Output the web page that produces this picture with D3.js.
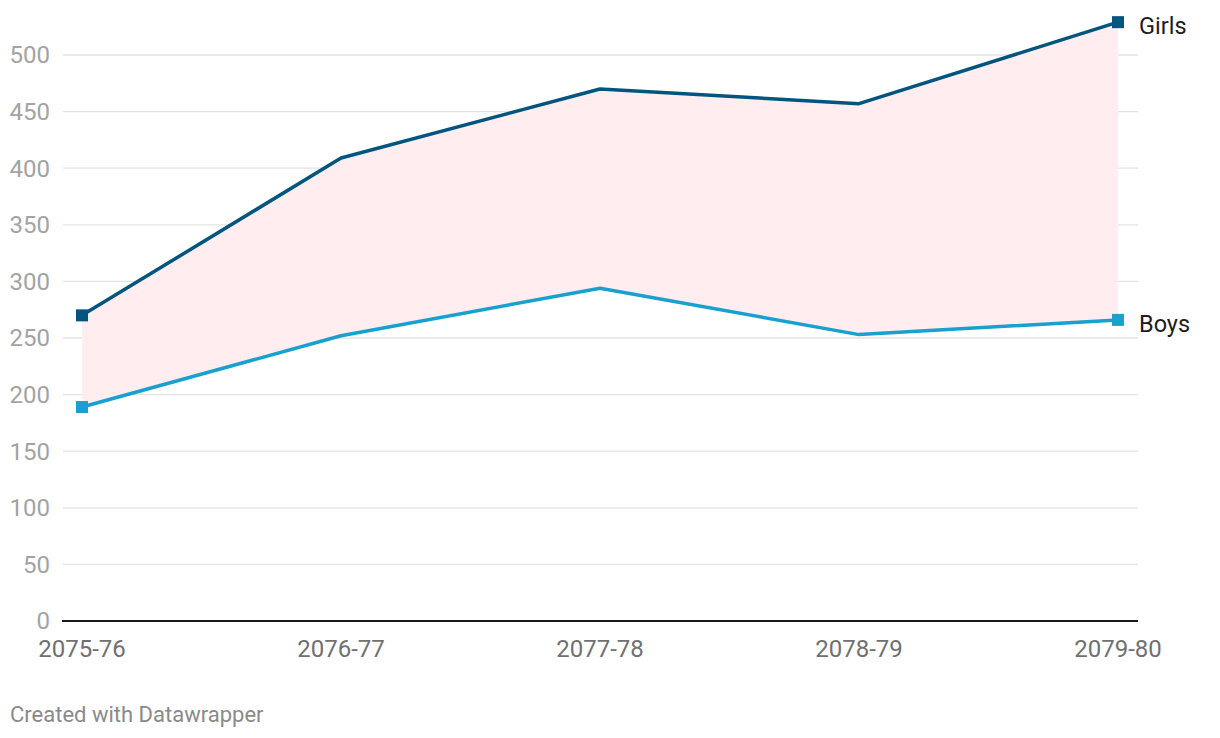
<!DOCTYPE html>
<html><head><meta charset="utf-8">
<script src="https://cdn.jsdelivr.net/npm/d3@7"></script>
<style>
body{margin:0;background:#fff;font-family:Roboto,"Noto Sans",sans-serif;}
svg{display:block;}
</style></head>
<body><svg id="c" width="1220" height="738"></svg>
<script>
const categories = ["2075-76","2076-77","2077-78","2078-79","2079-80"];
const girls = [270, 409, 470, 457, 529];
const boys  = [189, 252, 294, 253, 266];
const yTicks = [0,50,100,150,200,250,300,350,400,450,500];
const seriesNames = ["Girls","Boys"];
const seriesColors = ["#00557f","#18a0cf"];

const svg = d3.select("#c");
const x = d3.scalePoint().domain(categories).range([82,1118]);
const y = d3.scaleLinear().domain([0,500]).range([621,55]);

svg.append("g").selectAll("line").data(yTicks.filter(d=>d>0)).join("line")
  .attr("x1",63).attr("x2",1138).attr("y1",d=>y(d)).attr("y2",d=>y(d))
  .attr("stroke","#e3e3e3").attr("stroke-width",1.3);

svg.append("g").selectAll("text").data(yTicks).join("text")
  .attr("x",50).attr("y",d=>y(d)).attr("dy","0.35em").attr("text-anchor","end")
  .attr("font-size",24).attr("fill","#a3a3a3").text(d=>d);

const rows = categories.map((c,i)=>({c, g:girls[i], b:boys[i]}));
svg.append("path").datum(rows)
  .attr("d", d3.area().x(d=>x(d.c)).y0(d=>y(d.b)).y1(d=>y(d.g)))
  .attr("fill","#ffedf0");

svg.append("line").attr("x1",62).attr("x2",1138).attr("y1",y(0)).attr("y2",y(0))
  .attr("stroke","#1a1a1a").attr("stroke-width",2);

svg.append("g").selectAll("text").data(categories).join("text")
  .attr("x",d=>x(d)).attr("y",657).attr("text-anchor","middle")
  .attr("font-size",24).attr("fill","#707070").text(d=>d);

const series = [girls, boys];
series.forEach((vals,si)=>{
  const pts = categories.map((c,i)=>({c, v:vals[i]}));
  svg.append("path").datum(pts)
    .attr("d", d3.line().x(d=>x(d.c)).y(d=>y(d.v)))
    .attr("fill","none").attr("stroke",seriesColors[si]).attr("stroke-width",3.5)
    .attr("stroke-linejoin","round");
  const ends = [pts[0], pts[pts.length-1]];
  svg.append("g").selectAll("rect").data(ends).join("rect")
    .attr("x",d=>x(d.c)-6).attr("y",d=>y(d.v)-6).attr("width",12).attr("height",12)
    .attr("fill",seriesColors[si]);
  const last = pts[pts.length-1];
  svg.append("text").attr("x",x(last.c)+21).attr("y",y(last.v)+3).attr("dy","0.38em")
    .attr("font-size",23.5).attr("fill","#1d1d1d").text(seriesNames[si]);
});

svg.append("text").attr("x",10).attr("y",722).attr("font-size",22)
  .attr("fill","#8a8a8a").text("Created with Datawrapper");
</script></body></html>
